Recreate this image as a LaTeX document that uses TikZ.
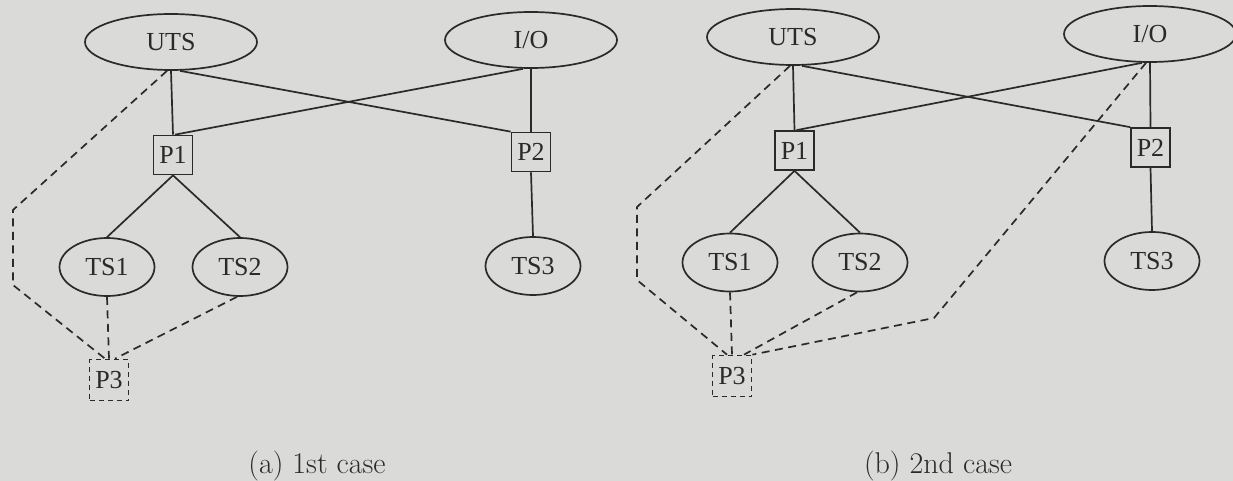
\documentclass[tikz,border=0pt]{standalone}
\usepackage{fontspec}
\newfontfamily\nodefont{Liberation Serif}
\usetikzlibrary{shapes.geometric}
\definecolor{bg}{RGB}{218,218,216}
\definecolor{ink}{RGB}{42,42,42}
\begin{document}
\begin{tikzpicture}[x=1pt,y=-1pt,
  nfont/.style={font=\nodefont\fontsize{26}{30}\selectfont},
  ell/.style={ellipse,draw=ink,line width=1.7pt,inner sep=0pt,text=ink,nfont},
  bigell/.style={ell,minimum width=172pt,minimum height=56pt},
  smallell/.style={ell,minimum width=95pt,minimum height=58pt},
  proc/.style={rectangle,draw=ink,line width=1.7pt,inner sep=0pt,minimum width=39pt,minimum height=39pt,text=ink,nfont},
  vproc/.style={proc,minimum height=41pt,dash pattern=on 5pt off 4pt},
  link/.style={draw=ink,line width=1.7pt},
  vlink/.style={link,dash pattern=on 8pt off 5.5pt},
  captext/.style={font=\fontsize{30}{36}\selectfont,anchor=base,text=ink}]
\fill[bg] (0,0) rectangle (1233,481);
\useasboundingbox (0,0) rectangle (1233,481);

% ---------- (a) 1st case ----------
\node[bigell] (aUTS) at (171,42) {UTS};
\node[bigell] (aIO) at (531,40) {I/O};
\node[proc] (aP1) at (173,155) {P1};
\node[proc] (aP2) at (531,152) {P2};
\node[smallell] (aTS1) at (107,267) {TS1};
\node[smallell] (aTS2) at (240,267) {TS2};
\node[smallell] (aTS3) at (533,266) {TS3};
\node[vproc] (aP3) at (109,380) {P3};
\coordinate (aB1) at (13,210);
\coordinate (aB2) at (13,285);

\draw[link] (aUTS.south) -- (aP1.north);
\draw[link] ([xshift=9pt]aUTS.south) -- (aP2.north west);
\draw[link] ([xshift=-8pt]aIO.south) -- ([xshift=2pt]aP1.north);
\draw[link] (aIO.south) -- (aP2.north);
\draw[link] (aP1.south) -- (aTS1.north);
\draw[link] (aP1.south) -- (aTS2.north);
\draw[link] (aP2.south) -- (aTS3.north);
\draw[vlink] ([xshift=-4pt]aUTS.south) -- (aB1) -- (aB2) -- ([xshift=-4pt]aP3.north);
\draw[vlink] (aTS1.south) -- (aP3.north);
\draw[vlink] ([xshift=-3pt]aTS2.south) -- ([xshift=6pt]aP3.north);

\node[captext] (capa) at (317,473) {(a) 1st case};

% ---------- (b) 2nd case ----------
\node[bigell] (bUTS) at (793,37) {UTS};
\node[bigell] (bIO) at (1150,34) {I/O};
\node[proc] (bP1) at (794.5,150.5) {P1};
\node[proc] (bP2) at (1150.5,147.5) {P2};
\node[smallell] (bTS1) at (730,262.5) {TS1};
\node[smallell] (bTS2) at (860,262.5) {TS2};
\node[smallell] (bTS3) at (1152,261) {TS3};
\node[vproc] (bP3) at (732,376) {P3};
\coordinate (bB1) at (637,207);
\coordinate (bB2) at (637,280);
\coordinate (bB3) at (934,318);

\draw[link] (bUTS.south) -- (bP1.north);
\draw[link] ([xshift=9pt]bUTS.south) -- (bP2.north west);
\draw[link] ([xshift=-8pt]bIO.south) -- ([xshift=2pt]bP1.north);
\draw[link] (bIO.south) -- (bP2.north);
\draw[link] (bP1.south) -- (bTS1.north);
\draw[link] (bP1.south) -- (bTS2.north);
\draw[link] (bP2.south) -- (bTS3.north);
\draw[vlink] ([xshift=-3pt]bUTS.south) -- (bB1) -- (bB2) -- ([xshift=-5pt]bP3.north);
\draw[vlink] (bTS1.south) -- (bP3.north);
\draw[vlink] ([xshift=-3pt]bTS2.south) -- ([xshift=12pt]bP3.north);
\draw[vlink] ([xshift=-4pt]bIO.south) -- (bB3) -- (bP3.north east);

\node[captext] (capb) at (938,473) {(b) 2nd case};
\end{tikzpicture}
\end{document}
